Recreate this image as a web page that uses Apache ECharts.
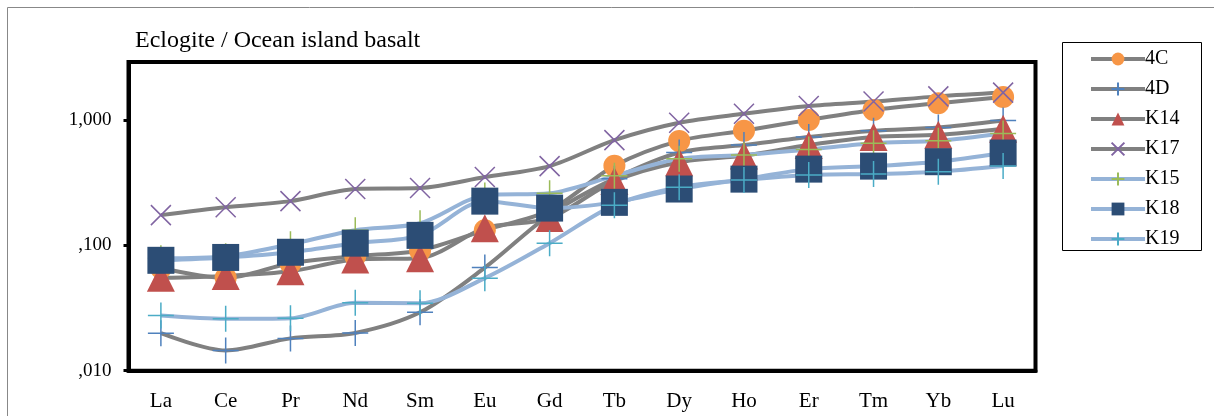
<!DOCTYPE html>
<html>
<head>
<meta charset="utf-8">
<script src="https://cdn.jsdelivr.net/npm/echarts@6/dist/echarts.min.js"></script>
<style>
  html, body { margin: 0; padding: 0; background: #fff; }
  #main { width: 1214px; height: 416px; }
</style>
</head>
<body>
<div id="main"></div>
<script>
// REE values
var elements = ['La', 'Ce', 'Pr', 'Nd', 'Sm', 'Eu', 'Gd', 'Tb', 'Dy', 'Ho', 'Er', 'Tm', 'Yb', 'Lu'];
var s4C  = [0.066, 0.055, 0.072, 0.082, 0.091, 0.132, 0.19, 0.43, 0.68, 0.82, 1.0, 1.2, 1.36, 1.52];
var s4D  = [0.0199, 0.0145, 0.0181, 0.0200, 0.0292, 0.0664, 0.175, 0.34, 0.55, 0.63, 0.73, 0.82, 0.87, 0.99];
var sK14 = [0.055, 0.057, 0.062, 0.077, 0.079, 0.137, 0.165, 0.325, 0.46, 0.52, 0.63, 0.73, 0.76, 0.85];
var sK17 = [0.174, 0.201, 0.225, 0.281, 0.286, 0.35, 0.428, 0.69, 0.95, 1.12, 1.29, 1.40, 1.54, 1.65];
var sK15 = [0.0787, 0.0817, 0.102, 0.132, 0.15, 0.25, 0.26, 0.358, 0.49, 0.525, 0.58, 0.65, 0.683, 0.78];
var sK18 = [0.0759, 0.080, 0.088, 0.104, 0.120, 0.225, 0.198, 0.22, 0.281, 0.337, 0.405, 0.428, 0.464, 0.544];
var sK19 = [0.0275, 0.0259, 0.0262, 0.0348, 0.0345, 0.0547, 0.104, 0.209, 0.29, 0.331, 0.363, 0.37, 0.386, 0.428];
var yTicks = [0.01, 0.1, 1];
var yTickText = { '0.01': ',010', '0.1': ',100', '1': '1,000' };

var PLUS = 'path://M0,5L10,5M5,0L5,10';
var CROSS = 'path://M0,0L10,10M10,0L0,10';
var GRAY = '#808080';
var LBLUE = '#95b3d7';
var FONT = '"Liberation Serif", "Times New Roman", serif';

function mk(name, data, lineColor, symbol, size, mColor, stroke) {
    return {
        name: name,
        type: 'line',
        data: data,
        smooth: 0.3,
        symbol: symbol,
        symbolSize: size,
        showAllSymbol: true,
        lineStyle: { color: lineColor, width: 4 },
        itemStyle: stroke
            ? { color: 'rgba(0,0,0,0)', borderColor: mColor, borderWidth: 1.5 }
            : { color: mColor, borderWidth: 0 },
        emphasis: { disabled: true }
    };
}

var chart = echarts.init(document.getElementById('main'));
chart.setOption({
    animation: false,
    title: {
        text: 'Eclogite / Ocean island basalt',
        left: 130,
        top: 24,
        textStyle: { fontFamily: FONT, fontWeight: 'normal', fontSize: 24, color: '#000' }
    },
    graphic: [
        { type: 'rect', shape: { x: 7.5, y: 7.5, width: 1230, height: 430 },
          style: { fill: 'none', stroke: '#888', lineWidth: 1 }, silent: true },
        { type: 'rect', shape: { x: 1062.5, y: 42.5, width: 139, height: 208 },
          style: { fill: '#fff', stroke: '#000', lineWidth: 1 }, silent: true, z: -1 }
    ],
    legend: {
        orient: 'vertical',
        left: 1084,
        top: 44,
        itemWidth: 54,
        itemHeight: 16,
        itemGap: 10,
        lineStyle: { width: 4 },
        textStyle: { fontFamily: FONT, fontSize: 20, color: '#000', padding: [0, 0, 0, -5] },
        data: ['4C', '4D', 'K14', 'K17', 'K15', 'K18', 'K19']
    },
    grid: {
        left: 128.5, right: 178.5, top: 62, bottom: 45.3,
        show: true, borderColor: '#000', borderWidth: 4, backgroundColor: '#fff'
    },
    xAxis: {
        type: 'category',
        data: elements,
        boundaryGap: true,
        axisLine: { lineStyle: { color: '#000', width: 4 } },
        axisTick: { show: false },
        axisLabel: { fontFamily: FONT, fontSize: 21, color: '#000', margin: 20 }
    },
    yAxis: {
        type: 'log',
        logBase: 10,
        min: 0.01,
        max: 2.895,
        splitLine: { show: false },
        axisLine: { show: true, lineStyle: { color: '#000', width: 4 } },
        axisTick: { show: true, length: 5, lineStyle: { color: '#000', width: 3 }, customValues: yTicks },
        axisLabel: {
            fontFamily: FONT, fontSize: 19, color: '#000', margin: 17,
            customValues: yTicks,
            formatter: function (v) {
                var k = String(+v.toPrecision(3));
                return yTickText[k] !== undefined ? yTickText[k] : '';
            }
        }
    },
    series: [
        mk('4C', s4C, GRAY, 'circle', 22, '#f79646', false),
        mk('4D', s4D, GRAY, PLUS, 26, '#4f81bd', true),
        mk('K14', sK14, GRAY, 'triangle', 28, '#c0504d', false),
        mk('K17', sK17, GRAY, CROSS, 20, '#8064a2', true),
        mk('K15', sK15, LBLUE, PLUS, 26, '#9bbb59', true),
        mk('K18', sK18, LBLUE, 'rect', 27, '#2c4d75', false),
        mk('K19', sK19, LBLUE, PLUS, 26, '#4bacc6', true)
    ]
});
</script>
</body>
</html>
